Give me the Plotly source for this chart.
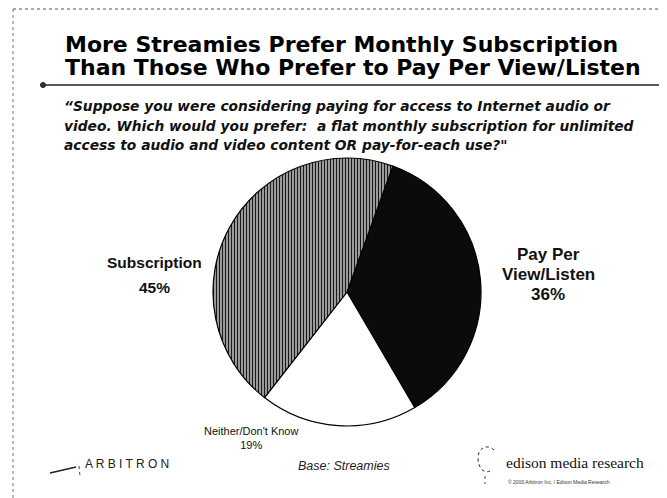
import plotly.graph_objects as go

# The page body has an 8px default margin, so the figure is drawn at (8, 8)
OFF = 8
W, H = 667 - OFF, 498 - OFF

# ---- data ----
categories = ["Pay Per View/Listen", "Neither/Don't Know", "Subscription"]
label_lines = [["Pay Per", "View/Listen"], ["Neither/Don't Know"], ["Subscription"]]
values = [36, 19, 45]
title_lines = ["More Streamies Prefer Monthly Subscription",
               "Than Those Who Prefer to Pay Per View/Listen"]
quote_lines = ["\u201cSuppose you were considering paying for access to Internet audio or",
               "video. Which would you prefer:  a flat monthly subscription for unlimited",
               "access to audio and video content OR pay-for-each use?\""]
base_note = "Base: Streamies"
left_brand = "A R B I T R O N"
right_brand = "edison media research"
copyright_note = "\u00a9 2000 Arbitron Inc. / Edison Media Research"


def px(x):
    return (x - OFF) / W


def py(y):
    return 1 - (y - OFF) / H


fig = go.Figure()

cx, cy, r = 347, 292, 134
fig.add_trace(go.Pie(
    labels=categories,
    values=values,
    sort=False,
    direction="clockwise",
    rotation=20,
    textinfo="none",
    hoverinfo="label+percent",
    showlegend=False,
    domain=dict(x=[px(cx - r), px(cx + r)], y=[py(cy + r), py(cy - r)]),
    marker=dict(
        colors=["#0b0b0b", "#ffffff", "#8c8c8c"],
        line=dict(color="#000000", width=1.2),
        pattern=dict(shape=["", "", "|"], fgcolor="#1a1a1a", bgcolor="#c4c4c4",
                     size=3, solidity=0.5),
    ),
))

ann = []
title_font = dict(family="DejaVu Sans", size=22, color="#000000")
for t, yy in zip(title_lines, [44, 67]):
    ann.append(dict(x=px(63), y=py(yy), text=f"<b>{t}</b>", xanchor="left", yanchor="middle",
                    showarrow=False, font=title_font))

quote_font = dict(family="DejaVu Sans", size=13.8, color="#111111")
for t, yy in zip(quote_lines, [106, 126, 145]):
    ann.append(dict(x=px(62), y=py(yy), text=f"<b><i>{t}</i></b>", xanchor="left",
                    yanchor="middle", showarrow=False, font=quote_font))

# Pay Per View/Listen label (three lines)
ppv_rows = label_lines[0] + [f"{values[0]}%"]
for t, yy in zip(ppv_rows, [254, 274, 294]):
    ann.append(dict(x=px(548), y=py(yy), text=f"<b>{t}</b>", showarrow=False,
                    font=dict(family="Liberation Sans", size=17, color="#111111"),
                    xanchor="center", yanchor="middle"))
# Subscription label (two lines)
sub_rows = label_lines[2] + [f"{values[2]}%"]
for t, yy in zip(sub_rows, [262, 287]):
    ann.append(dict(x=px(154), y=py(yy), text=f"<b>{t}</b>", showarrow=False,
                    font=dict(family="Liberation Sans", size=15.5, color="#111111"),
                    xanchor="center", yanchor="middle"))
# Neither label
ann.append(dict(x=px(251), y=py(438), text=f"{label_lines[1][0]}<br>{values[1]}%",
                showarrow=False, font=dict(family="Liberation Sans", size=11, color="#111111"),
                xanchor="center", yanchor="middle"))

# footer
ann.append(dict(x=px(83), y=py(464), text=left_brand, xanchor="left", yanchor="middle",
                showarrow=False, font=dict(family="Liberation Sans", size=12, color="#222222")))
ann.append(dict(x=px(344), y=py(466), text=f"<i>{base_note}</i>", xanchor="center",
                yanchor="middle", showarrow=False,
                font=dict(family="Liberation Sans", size=12.5, color="#222222")))
ann.append(dict(x=px(504), y=py(462), text=right_brand, xanchor="left", yanchor="middle",
                showarrow=False, font=dict(family="Liberation Serif", size=15.5, color="#111111")))
ann.append(dict(x=px(506), y=py(482), text=copyright_note, xanchor="left", yanchor="middle",
                showarrow=False, font=dict(family="Liberation Sans", size=5, color="#333333")))

shapes = [
    # slide border (top, left)
    dict(type="line", xref="paper", yref="paper", x0=px(13), x1=px(667), y0=py(9), y1=py(9),
         line=dict(color="#555555", width=1, dash="dot")),
    dict(type="line", xref="paper", yref="paper", x0=px(13), x1=px(13), y0=py(9), y1=py(498),
         line=dict(color="#777777", width=1, dash="dot")),
    # divider under title
    dict(type="line", xref="paper", yref="paper", x0=px(43), x1=px(667), y0=py(85), y1=py(85),
         line=dict(color="#222222", width=1.5)),
    dict(type="circle", xref="paper", yref="paper", x0=px(40.5), x1=px(45.5), y0=py(82.5), y1=py(87.5),
         fillcolor="#333333", line=dict(color="#222222", width=1)),
    # arbitron swoosh
    dict(type="line", xref="paper", yref="paper", x0=px(50), x1=px(76), y0=py(473), y1=py(467),
         line=dict(color="#222222", width=1.5)),
    dict(type="line", xref="paper", yref="paper", x0=px(79), x1=px(80), y0=py(466), y1=py(476),
         line=dict(color="#444444", width=1, dash="dot")),
    # edison logo "C"
    dict(type="path", xref="paper", yref="paper",
         path=(f"M {px(494)} {py(450)} C {px(488)} {py(444)}, {px(478)} {py(447)}, {px(478)} {py(458)} "
               f"C {px(478)} {py(468)}, {px(484)} {py(474)}, {px(490)} {py(471)}"),
         line=dict(color="#222222", width=1, dash="dot")),
    dict(type="line", xref="paper", yref="paper", x0=px(485), x1=px(485), y0=py(476), y1=py(484),
         line=dict(color="#444444", width=1, dash="dot")),
]

fig.update_layout(
    width=W, height=H,
    margin=dict(l=0, r=0, t=0, b=0),
    paper_bgcolor="#ffffff",
    plot_bgcolor="#ffffff",
    annotations=ann,
    shapes=shapes,
)

fig.write_html("out.html")
